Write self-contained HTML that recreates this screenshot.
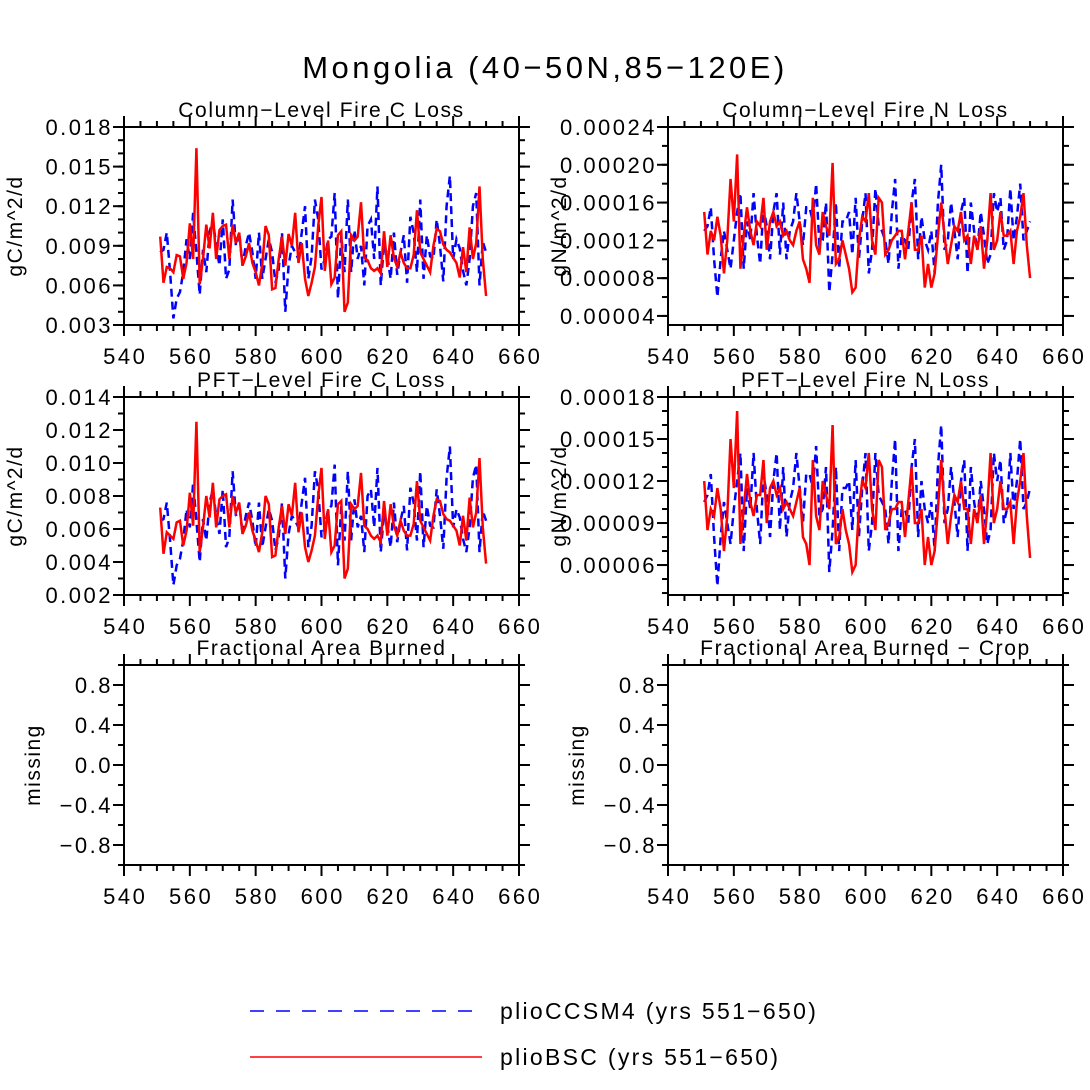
<!DOCTYPE html>
<html><head><meta charset="utf-8"><style>
body{margin:0;background:#fff;}
svg{display:block;font-family:"Liberation Sans",sans-serif;}
.tk{font-size:22px;letter-spacing:2.5px;}
.pt{font-size:21px;letter-spacing:1.6px;}
</style></head><body>
<svg id="chart" width="1090" height="1090" viewBox="0 0 1090 1090">
<text x="545" y="78" font-size="31" letter-spacing="3.5" text-anchor="middle">Mongolia (40−50N,85−120E)</text>
<g id="panels"></g>
<g>
<line x1="250" y1="1011" x2="482" y2="1011" stroke="#00f" stroke-width="1.5" stroke-dasharray="14,12"/>
<text x="500" y="1019" font-size="23" letter-spacing="2.3">plioCCSM4 (yrs 551−650)</text>
<line x1="250" y1="1057" x2="482" y2="1057" stroke="#f00" stroke-width="1.5"/>
<text x="500" y="1065" font-size="23" letter-spacing="2.3">plioBSC (yrs 551−650)</text>
</g>
</svg>
<script>
const years = Array.from({length:100},(_, i)=>551+i);
const colCRed=[0.0097,0.0062,0.0074,0.0073,0.0070,0.0083,0.0082,0.0065,0.0077,0.0107,0.0080,0.0164,0.0061,0.0080,0.0106,0.0088,0.0115,0.0080,0.0102,0.0105,0.0106,0.0080,0.0106,0.0092,0.0100,0.0075,0.0082,0.0092,0.0077,0.0070,0.0060,0.0076,0.0105,0.0098,0.0057,0.0058,0.0080,0.0097,0.0075,0.0099,0.0090,0.0115,0.0077,0.0092,0.0065,0.0052,0.0062,0.0074,0.0105,0.0127,0.0071,0.0094,0.0061,0.0066,0.0098,0.0101,0.0040,0.0047,0.0098,0.0094,0.0097,0.0123,0.0081,0.0079,0.0073,0.0071,0.0073,0.0069,0.0101,0.0074,0.0098,0.0081,0.0074,0.0085,0.0077,0.0073,0.0073,0.0083,0.0117,0.0085,0.0080,0.0075,0.0070,0.0090,0.0103,0.0101,0.0091,0.0087,0.0085,0.0081,0.0077,0.0066,0.0089,0.0070,0.0104,0.0080,0.0092,0.0135,0.0080,0.0052];
const colCBlue=[0.0085,0.0087,0.0100,0.0070,0.0035,0.0050,0.0055,0.0070,0.0095,0.0080,0.0115,0.0085,0.0053,0.0087,0.0070,0.0100,0.0110,0.0090,0.0075,0.0110,0.0065,0.0072,0.0125,0.0090,0.0100,0.0075,0.0090,0.0100,0.0085,0.0065,0.0100,0.0065,0.0080,0.0095,0.0085,0.0062,0.0072,0.0100,0.0040,0.0075,0.0090,0.0085,0.0080,0.0100,0.0120,0.0065,0.0082,0.0125,0.0110,0.0072,0.0080,0.0095,0.0097,0.0130,0.0050,0.0098,0.0070,0.0125,0.0070,0.0102,0.0080,0.0090,0.0060,0.0105,0.0110,0.0080,0.0135,0.0060,0.0092,0.0082,0.0065,0.0100,0.0068,0.0085,0.0098,0.0062,0.0112,0.0100,0.0070,0.0125,0.0065,0.0098,0.0082,0.0080,0.0110,0.0090,0.0063,0.0120,0.0143,0.0080,0.0095,0.0088,0.0071,0.0060,0.0080,0.0120,0.0130,0.0060,0.0093,0.0085];
const colNRed=[15,10.5,13,12,14.5,12.5,8.5,12,18.5,14,21.1,9,12.5,15.5,13,11.5,14,13.5,16.5,11,14,15,13.5,14,12.5,13,12,11.5,13,14,10,9,7.5,16.5,11.5,10.5,15,13.5,12.5,20.2,9.5,10,12,10.5,9,6.5,7,12,14.5,14,17,12,10.5,16.5,16,10.5,11,12,12.5,13,13,10,13,16,11,11,12.5,7,9.5,7,8.5,12.5,16,12.5,9.5,11.5,13.5,13,15,12,12.5,9.5,12.5,11,13.5,9,12,17,11,12,15,12.5,12.5,13,9.5,13,14.5,17,11.5,8];
const colNBlue=[13,13.5,15.5,10,6,10,13,11,9,12,15,17,9,14,12,17,12.5,9.5,15.5,13.5,10,15,17,10.5,16,10,13,14,17,14,11.5,15.5,15.5,14,18,11.5,12,16,6.5,10.5,16,9,14,14,15,10.5,16.5,10,14,17,8.5,11,17.5,13.5,13,12,9.5,15,18.5,9,12.5,12,11,16,18.5,10,14.5,12,11,13,8.5,16,20,11,12,16,13,10,15,16.5,8.5,16,13,11,15,12.5,9.5,10.5,17,15,16.5,11,12,17.5,12,14.5,18,12,13,14];
const pftCRed=[0.0073,0.0045,0.0058,0.0056,0.0054,0.0064,0.0065,0.0050,0.0059,0.0082,0.0062,0.0125,0.0046,0.0061,0.0080,0.0067,0.0088,0.0061,0.0078,0.0080,0.0081,0.0061,0.0080,0.0070,0.0076,0.0057,0.0062,0.0070,0.0059,0.0053,0.0046,0.0058,0.0080,0.0075,0.0043,0.0044,0.0061,0.0074,0.0057,0.0075,0.0068,0.0088,0.0058,0.0070,0.0049,0.0040,0.0047,0.0056,0.0080,0.0097,0.0054,0.0072,0.0046,0.0050,0.0075,0.0077,0.0030,0.0036,0.0075,0.0072,0.0074,0.0094,0.0062,0.0060,0.0056,0.0054,0.0056,0.0052,0.0077,0.0056,0.0075,0.0062,0.0056,0.0065,0.0059,0.0056,0.0056,0.0063,0.0089,0.0065,0.0061,0.0057,0.0053,0.0068,0.0078,0.0077,0.0069,0.0066,0.0065,0.0062,0.0059,0.0050,0.0068,0.0053,0.0079,0.0061,0.0070,0.0103,0.0061,0.0039];
const pftCBlue=[0.0065,0.0066,0.0076,0.0053,0.0026,0.0038,0.0042,0.0053,0.0072,0.0061,0.0088,0.0065,0.0040,0.0066,0.0053,0.0076,0.0084,0.0068,0.0057,0.0084,0.0049,0.0055,0.0095,0.0068,0.0076,0.0057,0.0068,0.0076,0.0065,0.0049,0.0076,0.0049,0.0061,0.0072,0.0065,0.0047,0.0055,0.0076,0.0030,0.0057,0.0068,0.0065,0.0061,0.0076,0.0091,0.0049,0.0062,0.0095,0.0084,0.0055,0.0061,0.0072,0.0074,0.0099,0.0038,0.0074,0.0053,0.0095,0.0053,0.0078,0.0061,0.0068,0.0046,0.0080,0.0084,0.0061,0.0097,0.0046,0.0070,0.0062,0.0049,0.0076,0.0052,0.0065,0.0074,0.0047,0.0085,0.0076,0.0053,0.0095,0.0049,0.0074,0.0062,0.0061,0.0084,0.0068,0.0048,0.0091,0.0110,0.0061,0.0072,0.0067,0.0054,0.0046,0.0061,0.0091,0.0099,0.0046,0.0071,0.0065];
const pftNRed=[12,8.5,10,9.5,11.5,10,7,9.5,15,11.5,17,7.5,10,12.5,10.5,9.5,11,11,13.5,9,11.5,12,11,11.5,10,10.5,10,9.5,10.5,11.5,8,7.5,6,13.5,9.5,8.5,12,11,10,16,7.5,8,10,8.5,7.5,5.5,6,10,12,11.5,14,10,8.5,13.5,13,8.5,9,10,10,10.5,10.5,8,10.5,13,9,9,10,6,8,6,7,10,13.5,10,7.5,9.5,11,10.5,12,10,10,7.5,10,9,11,7.5,10,14,9,10,12,10,10,10.5,7.5,10.5,12,14,9.5,6.5];
const pftNBlue=[10.5,11,12.5,8,4.5,8,10.5,9,7.5,10,12,14,7,11.5,10,14,10,7.5,12.5,11,8,12,14,8.5,13,8,10.5,11.5,14,11.5,9,12.5,12.5,11.5,14.5,9.5,10,13,5.5,8.5,13,7,11.5,11.5,12,8.5,13.5,8,11.5,14,7,9,14,11,10.5,10,7.5,12,15,7,10,10,9,13,15,8,12,10,9,10.5,7,13,16,9,10,13,10.5,8,12,13.5,7,13,10.5,9,12,10,7.5,8.5,14,12,13.5,9,10,14,10,12,15,10,10.5,11.5];
const xTicks=[540,560,580,600,620,640,660];
const colCTicks=[0.003,0.006,0.009,0.012,0.015,0.018];
const colCLabels=["0.003","0.006","0.009","0.012","0.015","0.018"];
const colNTicks=[4,8,12,16,20,24];
const colNLabels=["0.00004","0.00008","0.00012","0.00016","0.00020","0.00024"];
const pftCTicks=[0.002,0.004,0.006,0.008,0.010,0.012,0.014];
const pftCLabels=["0.002","0.004","0.006","0.008","0.010","0.012","0.014"];
const pftNTicks=[6,9,12,15,18];
const pftNLabels=["0.00006","0.00009","0.00012","0.00015","0.00018"];
const missTicks=[-0.8,-0.4,0,0.4,0.8];
const missLabels=["−0.8","−0.4","0.0","0.4","0.8"];

const NS="http://www.w3.org/2000/svg";
const root=document.getElementById('panels');
function mk(tag,attrs,parent){const e=document.createElementNS(NS,tag);for(const k in attrs)e.setAttribute(k,attrs[k]);parent.appendChild(e);return e;}

const panels=[
 {key:'col-c',title:'Column−Level Fire C Loss',x0:124,x1:519,y0:127,y1:325,ymin:0.003,ymax:0.018,minor:0.001,ticks:colCTicks,labels:colCLabels,ytitle:'gC/m^2/d',red:colCRed,blue:colCBlue,tx:22},
 {key:'col-n',title:'Column−Level Fire N Loss',x0:668,x1:1063,y0:127,y1:325,ymin:3.04,ymax:24,minor:2,ticks:colNTicks,labels:colNLabels,ytitle:'gN/m^2/d',red:colNRed,blue:colNBlue,tx:566},
 {key:'pft-c',title:'PFT−Level Fire C Loss',x0:124,x1:519,y0:397,y1:595,ymin:0.002,ymax:0.014,minor:0.001,ticks:pftCTicks,labels:pftCLabels,ytitle:'gC/m^2/d',red:pftCRed,blue:pftCBlue,tx:22},
 {key:'pft-n',title:'PFT−Level Fire N Loss',x0:668,x1:1063,y0:397,y1:595,ymin:3.86,ymax:18,minor:1,ticks:pftNTicks,labels:pftNLabels,ytitle:'gN/m^2/d',red:pftNRed,blue:pftNBlue,tx:566},
 {key:'area',title:'Fractional Area Burned',x0:124,x1:519,y0:665,y1:865,ymin:-1,ymax:1,minor:0.2,ticks:missTicks,labels:missLabels,ytitle:'missing',red:null,blue:null,tx:40},
 {key:'area-crop',title:'Fractional Area Burned − Crop',x0:668,x1:1063,y0:665,y1:865,ymin:-1,ymax:1,minor:0.2,ticks:missTicks,labels:missLabels,ytitle:'missing',red:null,blue:null,tx:584}
];

panels.forEach(p=>{
 const g=mk('g',{},root);
 
 
 const xs=v=>p.x0+(v-540)/120*(p.x1-p.x0);
 const ys=v=>p.y1-(v-p.ymin)/(p.ymax-p.ymin)*(p.y1-p.y0);
 for(let v=540;v<=660;v+=5){
  const x=xs(v);const maj=(v%20===0);const L=maj?11:6;
  mk('line',{x1:x,y1:p.y1,x2:x,y2:p.y1+L,stroke:'#000','stroke-width':2},g);
  mk('line',{x1:x,y1:p.y0,x2:x,y2:p.y0-L,stroke:'#000','stroke-width':2},g);
 }
 const start=Math.ceil(p.ymin/p.minor-1e-6)*p.minor;
 for(let v=start;v<=p.ymax+1e-9;v+=p.minor){
  const y=ys(v);
  mk('line',{x1:p.x0,y1:y,x2:p.x0-6,y2:y,stroke:'#000','stroke-width':2},g);
  mk('line',{x1:p.x1,y1:y,x2:p.x1+6,y2:y,stroke:'#000','stroke-width':2},g);
 }
 p.ticks.forEach((v,i)=>{
  const y=ys(v);
  mk('line',{x1:p.x0,y1:y,x2:p.x0-11,y2:y,stroke:'#000','stroke-width':2},g);
  mk('line',{x1:p.x1,y1:y,x2:p.x1+11,y2:y,stroke:'#000','stroke-width':2},g);
  const t=mk('text',{x:p.x0-11,y:y+8,'class':'tk','text-anchor':'end'},g);
  t.textContent=p.labels[i];
  
  
 });
 xTicks.forEach(v=>{
  const t=mk('text',{x:xs(v)+1.25,y:p.y1+39,'class':'tk','text-anchor':'middle'},g);
  t.textContent=String(v);
  
  
 });
 const cy=(p.y0+p.y1)/2;
 const yt=mk('text',{x:p.tx,y:cy,'font-size':21,'letter-spacing':1.5,'text-anchor':'middle',transform:`rotate(-90 ${p.tx} ${cy})`},g);
 yt.textContent=p.ytitle;
 
 
 const tt=mk('text',{x:(p.x0+p.x1)/2,y:p.y0-10,'class':'pt','text-anchor':'middle'},g);
 tt.textContent=p.title;
 
 
 if(p.blue){
  const d=p.blue.map((v,i)=>(i?'L':'M')+xs(years[i]).toFixed(2)+' '+ys(v).toFixed(2)).join(' ');
  const pl=mk('path',{d:d,fill:'none',stroke:'#00f','stroke-width':2.5,'stroke-dasharray':'8,5'},g);
  
  
 }
 if(p.red){
  const d=p.red.map((v,i)=>(i?'L':'M')+xs(years[i]).toFixed(2)+' '+ys(v).toFixed(2)).join(' ');
  const pl=mk('path',{d:d,fill:'none',stroke:'#f00','stroke-width':2.5},g);
  
  
 }
 const fr=mk('rect',{x:p.x0,y:p.y0,width:p.x1-p.x0,height:p.y1-p.y0,fill:'none',stroke:'#000','stroke-width':2},g);
 
 
});
</script>
</body></html>
